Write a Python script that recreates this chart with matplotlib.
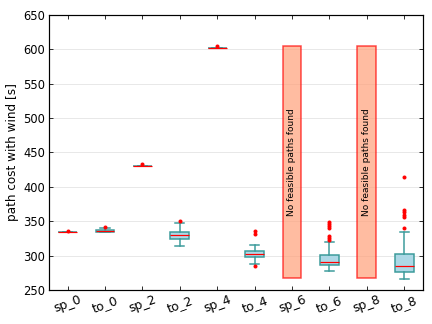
import matplotlib
matplotlib.use("Agg")
import matplotlib.pyplot as plt

labels = ["sp_0", "to_0", "sp_2", "to_2", "sp_4", "to_4", "sp_6", "to_6", "sp_8", "to_8"]

# box stats for the columns that have results (position -> stats)
box_pos = [1, 2, 3, 4, 5, 6, 8, 10]
med = [335, 336, 430, 329.5, 602.5, 302, 291, 284.5]
q1 = [335, 335, 430, 324, 602.5, 297.5, 287, 276]
q3 = [335, 337.5, 430, 334.5, 602.5, 306.5, 301.5, 302]
wlo = [335, 334, 430, 314, 602.5, 287.5, 277, 266.5]
whi = [335, 339.5, 430, 347, 602.5, 316, 319.5, 334.5]
fliers = [
    [336],
    [341.5],
    [433],
    [350],
    [604.5],
    [336, 331.5, 285],
    [349, 346, 342.5, 339.5, 328, 325, 323],
    [414, 366, 363, 359, 355.5, 340.5],
]

# columns where nothing was found
fail_pos = [7, 9]
fail_lo = 267
fail_hi = 604.5

fig = plt.figure(figsize=(6, 4.5), dpi=72)
ax = fig.add_axes([0.113, 0.105, 0.866, 0.849])

stats = []
for i in range(len(box_pos)):
    stats.append({"med": med[i], "q1": q1[i], "q3": q3[i],
                  "whislo": wlo[i], "whishi": whi[i], "fliers": fliers[i]})

edge = "#3a9a9a"
ax.bxp(stats, positions=box_pos, widths=0.5, patch_artist=True,
       boxprops=dict(facecolor="#add8e6", edgecolor=edge, linewidth=1.5),
       whiskerprops=dict(color=edge, linewidth=1.5),
       capprops=dict(color=edge, linewidth=1.5),
       medianprops=dict(color="red", linewidth=1.2),
       flierprops=dict(marker="o", markerfacecolor="red", markeredgecolor="red",
                       markersize=3))

for p in fail_pos:
    ax.bar(p, fail_hi - fail_lo, bottom=fail_lo, width=0.5,
           facecolor="lightsalmon", edgecolor="red", linewidth=1.5, alpha=0.7)
    ax.text(p, (fail_lo + fail_hi) / 2, "No feasible paths found", rotation=90,
            ha="center", va="center", fontsize=9)

ax.set_xlim(0.5, 10.5)
ax.set_ylim(250, 650)
ax.set_xticks(range(1, 11))
ax.set_xticklabels(labels, rotation=20, fontsize=12.5)
ax.tick_params(axis="y", labelsize=11.5)
ax.tick_params(direction="in", top=True, right=True, length=4)
ax.yaxis.grid(True, color="#e8e8e8", linewidth=1)
ax.set_axisbelow(True)
for s in ax.spines.values():
    s.set_linewidth(1.2)
ax.set_ylabel("path cost with wind [s]", fontsize=12)

fig.savefig("out.png", dpi=72)
